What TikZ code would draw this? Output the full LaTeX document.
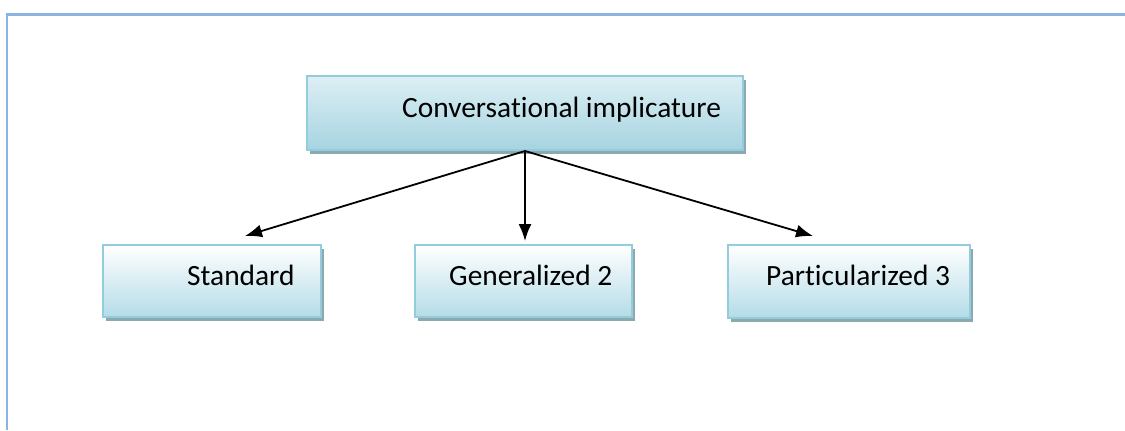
\documentclass[tikz,border=0pt]{standalone}
\usepackage{fontspec}
\setmainfont[Ligatures={NoCommon}]{Carlito}
\usetikzlibrary{arrows.meta,shadows}
\definecolor{frameblue}{HTML}{8DB3E2}
\definecolor{boxedge}{HTML}{93CDDD}
\definecolor{boxlow}{HTML}{B4DCE7}
\definecolor{boxtop}{HTML}{DDEFF4}
\definecolor{boxdeep}{HTML}{A6D4E1}
\definecolor{shadowgray}{HTML}{8DA9B0}
\tikzset{
  box/.style={draw=boxedge, line width=2bp, rectangle, inner sep=0pt,
    top color=white, bottom color=boxlow,
    drop shadow={shadow xshift=3bp, shadow yshift=-4bp, fill=shadowgray, opacity=1}},
  headbox/.style={box, top color=boxtop, bottom color=boxdeep},
  lbl/.style={anchor=base west, inner sep=0pt, font=\fontsize{29.4bp}{35bp}\selectfont},
  link/.style={line width=1.8bp, -{Latex[length=17bp,width=13bp]}}
}
\begin{document}
\begin{tikzpicture}[x=1bp,y=-1bp]
  \useasboundingbox (0,0) rectangle (1125,430);
  % page frame
  \draw[frameblue, line width=2.4bp] (7,430) -- (7,14.5) -- (1125,14.5);

  % boxes
  \node[headbox, minimum width=436bp, minimum height=74bp] (head) at (525,113) {};
  \node[box, minimum width=218bp, minimum height=72bp] (std) at (212,281) {};
  \node[box, minimum width=217bp, minimum height=72bp] (gen) at (523.5,281) {};
  \node[box, minimum width=242bp, minimum height=73bp] (part) at (849,281.5) {};

  % labels
  \node[lbl] (headText) at (402,117) {Conversational implicature};
  \node[lbl] (stdText) at (187,285) {Standard};
  \node[lbl] (genText) at (449,285) {Generalized 2};
  \node[lbl] (partText) at (766,285) {Particularized 3};

  % arrow ends
  \coordinate (stdTip) at (245,236);
  \coordinate (genTip) at (525,241);
  \coordinate (partTip) at (813,236);

  \draw[link] (head.south) -- (stdTip);
  \draw[link] (head.south) -- (genTip);
  \draw[link] (head.south) -- (partTip);
\end{tikzpicture}
\end{document}
